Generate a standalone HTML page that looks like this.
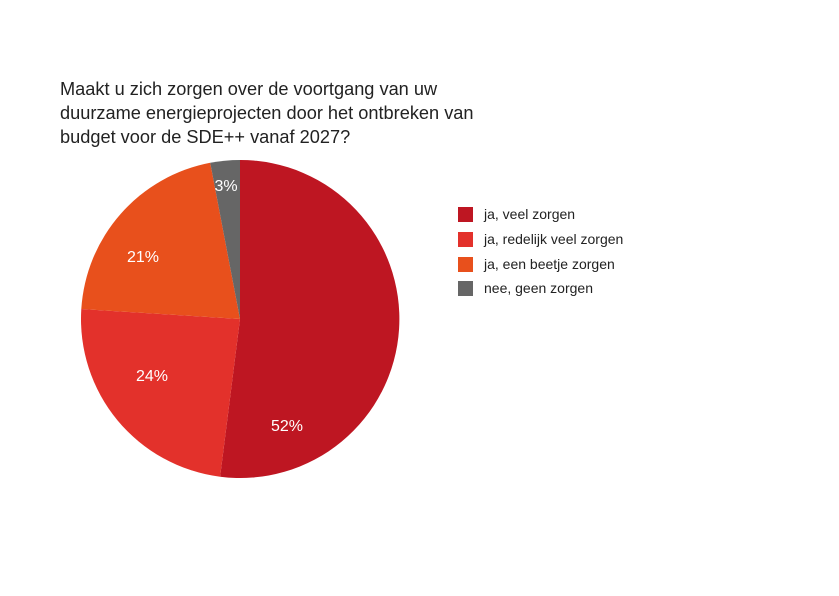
<!DOCTYPE html>
<html><head><style>
body{margin:0;background:#fff;}
svg text{font-family:"Liberation Sans",sans-serif;}
</style></head><body>
<svg width="839" height="591" xmlns="http://www.w3.org/2000/svg">
<rect width="839" height="591" fill="#fff"/>
<g font-size="18.2" fill="#222">
<text x="60" y="95">Maakt u zich zorgen over de voortgang van uw</text>
<text x="60" y="119">duurzame energieprojecten door het ontbreken van</text>
<text x="60" y="143">budget voor de SDE++ vanaf 2027?</text>
</g>
<path d="M240,319 L240,160 A159,159 0 1 1 220.1,476.7 Z" fill="#BE1622"/>
<path d="M240,319 L220.1,476.7 A159,159 0 0 1 81.3,309 Z" fill="#E3312B"/>
<path d="M240,319 L81.3,309 A159,159 0 0 1 210.2,162.8 Z" fill="#E8501C"/>
<path d="M240,319 L210.2,162.8 A159,159 0 0 1 240,160 Z" fill="#666666"/>
<g font-size="16" fill="#fff" text-anchor="middle">
<text x="287" y="431">52%</text>
<text x="152" y="381">24%</text>
<text x="143" y="262">21%</text>
<text x="226" y="191">3%</text>
</g>
<rect x="458" y="207" width="15" height="15" fill="#BE1622"/>
<rect x="458" y="232" width="15" height="15" fill="#E3312B"/>
<rect x="458" y="257" width="15" height="15" fill="#E8501C"/>
<rect x="458" y="281" width="15" height="15" fill="#666666"/>
<g font-size="14" fill="#222">
<text x="484" y="219">ja, veel zorgen</text>
<text x="484" y="244">ja, redelijk veel zorgen</text>
<text x="484" y="269">ja, een beetje zorgen</text>
<text x="484" y="293">nee, geen zorgen</text>
</g>
</svg>
</body></html>
